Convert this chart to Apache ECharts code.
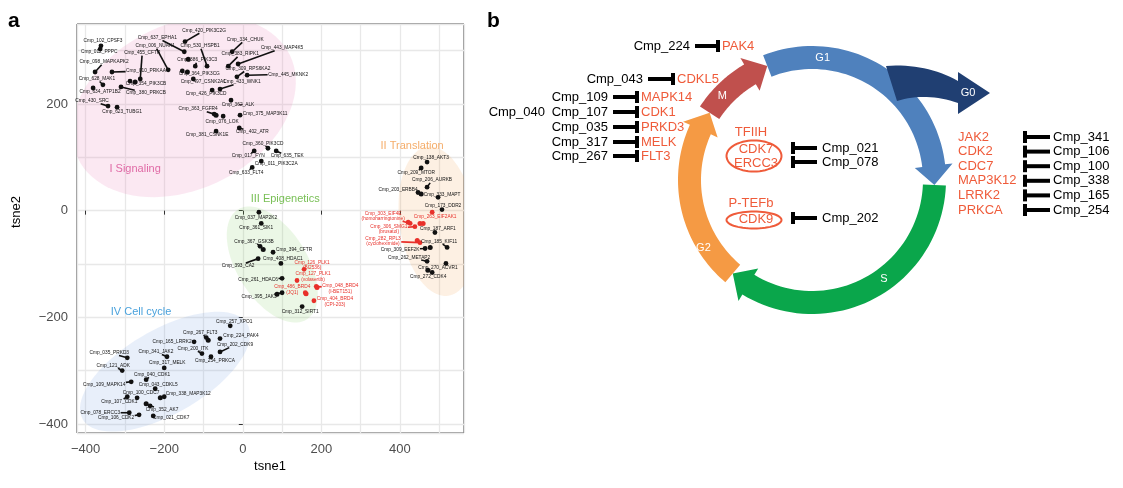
<!DOCTYPE html>
<html><head><meta charset="utf-8">
<script src="https://cdn.jsdelivr.net/npm/echarts@6/dist/echarts.min.js"></script>
<style>html,body{margin:0;padding:0;background:#fff}#c{width:1123px;height:488px}</style>
</head><body><div id="c"></div>
<script>
const FONT = '"Liberation Sans", Arial, Helvetica, sans-serif';

// ---------------- Panel a data ----------------
const cmpLabels = [
 'Cmp_102_CPSF3','Cmp_012_PPPC','Cmp_098_MAPKAPK2','Cmp_628_MAK1','Cmp_634_ATP1B2','Cmp_430_SRC','Cmp_623_TUBG1','Cmp_010_PRKAA',
 'Cmp_637_EPHA1','Cmp_006_NUAK1','Cmp_455_CFTR','Cmp_364_PIK3CG','Cmp_354_PIK3CB','Cmp_380_PRKCB','Cmp_420_PIK3C2G','Cmp_530_HSPB1',
 'Cmp_334_CHUK','Cmp_443_MAP4K5','Cmp_383_RIPK1','Cmp_386_PIK3C3','Cmp_309_RPS6KA2','Cmp_497_CSNK2A1','Cmp_445_MKNK2','Cmp_433_WNK1',
 'Cmp_426_PIK3CD','Cmp_362_ALK','Cmp_363_FGFR4','Cmp_076_LOK','Cmp_375_MAP3K11','Cmp_381_CSNK1E','Cmp_402_ATR','Cmp_360_PIK3CD',
 'Cmp_017_FYN','Cmp_635_TEK','Cmp_011_PIK3C2A','Cmp_633_FLT4',
 'Cmp_138_AKT3','Cmp_209_MTOR','Cmp_206_AURKB','Cmp_203_ERBB4','Cmp_333_MAPT','Cmp_173_DDR2','Cmp_263_EIF2AK1',
 'Cmp_303_EIF4E\n(homoharringtonine)','Cmp_306_SMG1\n(brusatol)','Cmp_187_ARF1','Cmp_282_RPL3\n(cycloheximide)','Cmp_185_KIF11',
 'Cmp_309_EEF2K','Cmp_262_METAP2','Cmp_270_ACVR1','Cmp_272_CDK4',
 'Cmp_037_MAP2K2','Cmp_361_SIK1','Cmp_367_GSK3B','Cmp_394_CFTR','Cmp_408_HDAC1','Cmp_393_CA2','Cmp_261_HDAC6','Cmp_395_JAK3','Cmp_312_SIRT1',
 'Cmp_126_PLK1\n(BI2536)','Cmp_127_PLK1\n(volasertib)','Cmp_048_BRD4\n(I-BET151)','Cmp_486_BRD4\n(JQ1)','Cmp_404_BRD4\n(CPI-203)',
 'Cmp_257_XPO1','Cmp_267_FLT3','Cmp_224_PAK4','Cmp_202_CDK9','Cmp_165_LRRK2','Cmp_200_ITK','Cmp_254_PRKCA','Cmp_035_PRKD3','Cmp_341_JAK2',
 'Cmp_121_ADK','Cmp_317_MELK','Cmp_040_CDK1','Cmp_109_MAPK14','Cmp_043_CDKL5','Cmp_100_CDC7','Cmp_338_MAP3K12','Cmp_107_CDK1','Cmp_352_AK7',
 'Cmp_078_ERCC3','Cmp_106_CDK2','Cmp_021_CDK7'
];
const cmpX = [
 -361,-363,-376,-356,-381,-343,-320,-333,
 -149,-190,-261,-154,-287,-310,-147,-91,
 -27,-12,-37,-121,-15,-126,11,-58,
 -78,-30,-73,-50,-7,-68,-9,64,
 29,85,47,24,
 469,454,469,446,497,507,482,
 426,438,489,451,520,
 464,469,517,482,
 41,47,44,77,97,39,100,100,151,
 156,138,187,159,181,
 -32,-93,-58,-58,-124,-104,-81,-294,-193,
 -307,-200,-246,-284,-223,-269,-200,-294,-236,
 -289,-264,-228
];
const cmpY = [
 309,303,260,236,230,196,194,260,
 298,264,247,262,243,232,317,271,
 298,275,271,271,251,247,254,228,
 226,207,181,177,179,149,155,117,
 112,112,93,81,
 91,80,44,34,25,2,-3,
 -24,-30,-41,-60,-69,
 -71,-95,-99,-116,
 -3,-24,-67,-78,-99,-90,-127,-154,-180,
 -110,-131,-142,-154,-169,
 -216,-238,-240,-265,-246,-268,-274,-276,-274,
 -300,-295,-317,-321,-334,-351,-349,-349,-366,
 -379,-383,-385
];
const cmpHighlighted = cmpLabels.map(l => l.indexOf('\n') >= 0 || l === 'Cmp_263_EIF2AK1' ? 1 : 0);

// unlabeled points
const extraX = [-141,-274,-68,454,451,459,421,444,477,471,52,87,-88,-210,-246,-139,189,161];
const extraY = [260,241,179,31,-24,-24,-22,-56,-69,-112,-73,-157,-243,-351,-362,284,-144,-156];
const extraHighlighted = [0,0,0,0,1,1,1,1,0,0,0,0,0,0,0,0,1,1];

// cluster annotations (data coordinates)
const clusterNames = ['I Signaling','II Translation','III Epigenetics','IV Cell cycle'];
const clusterTextX = [-274, 431, 108, -259];
const clusterTextY = [78, 121, 21, -190];
// cluster ellipses: centre, semi-axes (data units), rotation (deg, screen)
const ellipseCx = [-150, 496, 75, -198];
const ellipseCy = [195, -20, -101, -302];
const ellipseA = [300, 97, 165, 242];
const ellipseB = [155, 141, 66, 79];
const ellipseRot = [-26, -8, 58, -30];

// ---------------- layout / style (not data) ----------------
const labelNudge = [
 [2,-5],[-1,3],[9,-10],[-6,-6],[7,4],[-16,-5],[5,4],[34,-1],
 [-27,-14],[-13,-24],[2,-26],[17,3],[16,3],[25,6],[19,-11],[-7,-20],
 [13,-12],[44,-16],[12,-12],[2,-6],[11,-8],[10,3],[41,-1],[22,-7],
 [-6,4],[7,4],[-16,-5],[-1,5],[25,-2],[-9,3],[13,4],[-5,-5],
 [-6,5],[11,5],[15,3],[-6,5],
 [4,-4],[-5,5],[5,-7],[-20,-3],[4,-3],[1,-4],[3,4],
 [-27,-7.5],[-26,2.5],[3,-4],[-37,-1.5],[-8,-6],
 [-25,1],[-18,-4],[-8,4],[-4,4],
 [-3,5],[-5,4],[-6,-5],[21,-3],[2,-5],[-20,7],[-24,1],[-23,4],[-2,5],
 [8,-4],[16,-4],[24,2.5],[-13,-3],[21,1],
 [4,-4],[-6,-5],[21,-3],[15,-7],[-22,0],[-9,-5],[4,4],[-18,-5],[-11,-5],
 [-9,-5],[3,-5],[6,-5],[-27,3],[3,-4],[4,-5],[24,-3],[-8,5],[12,4],
 [-29,0],[-23,3],[18,2]
];
const RED = '#e8302a';
const clusterTextColors = ['#e06aa6','#f5ad6a','#78bf55','#4aa2dc'];
const ellipseFill = ['rgba(233,120,175,0.17)','rgba(245,160,80,0.16)','rgba(120,200,90,0.15)','rgba(100,150,220,0.15)'];

// ---------------- Panel b data ----------------
const phaseNames = ['G1','S','G2','M'];
const leftCompounds = ['Cmp_224','Cmp_043','Cmp_109','Cmp_107','Cmp_035','Cmp_317','Cmp_267'];
const leftTargets = ['PAK4','CDKL5','MAPK14','CDK1','PRKD3','MELK','FLT3'];
const extraLeftCompound = 'Cmp_040';
const complexNames = ['TFIIH','P-TEFb'];
const complexMembers = [['CDK7','ERCC3'],['CDK9']];
const complexCompounds = [['Cmp_021','Cmp_078'],['Cmp_202']];
const rightTargets = ['JAK2','CDK2','CDC7','MAP3K12','LRRK2','PRKCA'];
const rightCompounds = ['Cmp_341','Cmp_106','Cmp_100','Cmp_338','Cmp_165','Cmp_254'];

// panel b geometry
const ring = {cx: 812, cy: 180, rIn: 111, rOut: 134};
const phaseColors = ['#4f81bd','#0aa64b','#f59a44','#c0504d'];
const phaseFrom = [-21.4, 92.3, 220.3, 303.3];
const phaseTo = [92.3, 220.3, 303.3, 338.6];
const phaseLabelAngle = [5, 144, 238, 313];
const phaseLabelRadius = [122.5, 122.5, 128, 122.5];
const TARGET = '#ef5b3a';

// ---------------- helpers ----------------
const mctx = document.createElement('canvas').getContext('2d');
function textW(t, size){ mctx.font = size + 'px ' + FONT; return mctx.measureText(t).width; }
function txt(s, x, y, o){
  o = o || {};
  const al = o.align || 'left';
  return {type:'text', x:x, y:y, rotation:o.rot||0, z:100,
    style:{text:s, fill:o.fill||'#000', font:(o.weight||'normal')+' '+(o.size||13)+'px '+FONT,
      textAlign:al, align:al, textVerticalAlign:'middle', verticalAlign:'middle'}};
}
function ringPt(r,t){ const a=t*Math.PI/180; return [ring.cx + r*Math.sin(a), ring.cy - r*Math.cos(a)]; }
function arrowArc(t0,t1){
  const rMid=(ring.rIn+ring.rOut)/2, headDeg=9, headHalf=19, tb=t1-headDeg, pts=[];
  for(let k=0;k<=48;k++) pts.push(ringPt(ring.rOut, t0+(tb-t0)*k/48));
  pts.push(ringPt(rMid+headHalf, tb)); pts.push(ringPt(rMid, t1)); pts.push(ringPt(rMid-headHalf, tb));
  for(let k=48;k>=0;k--) pts.push(ringPt(ring.rIn, t0+(tb-t0)*k/48));
  return pts;
}
function quad(p0,p1,p2,n){ const out=[]; for(let k=0;k<=n;k++){const t=k/n,u=1-t; out.push([u*u*p0[0]+2*u*t*p1[0]+t*t*p2[0], u*u*p0[1]+2*u*t*p1[1]+t*t*p2[1]]);} return out; }
function inhibitor(x0, x1, y){
  return [{type:'line', z:90, shape:{x1:x0,y1:y,x2:x1,y2:y}, style:{stroke:'#000', lineWidth:4}},
          {type:'rect', z:90, shape:{x:x1-2, y:y-6, width:4, height:12}, style:{fill:'#000'}}];
}
function ellipsePts(cx,cy,rx,ry,n){ const p=[]; for(let k=0;k<n;k++){const a=2*Math.PI*k/n; p.push([cx+rx*Math.cos(a), cy+ry*Math.sin(a)]);} return p; }

// ---------------- Panel b graphics ----------------
const g = [];
g.push(txt('a', 8, 21, {size:21, weight:'bold'}));
g.push(txt('b', 487, 21, {size:21, weight:'bold'}));
g.push(txt('tsne1', 270, 466, {size:13, align:'center'}));
g.push(txt('tsne2', 16, 212, {size:13, align:'center', rot:Math.PI/2}));

// ring arcs
for (let i=0;i<4;i++){
  g.push({type:'polygon', z:50, shape:{points:arrowArc(phaseFrom[i], phaseTo[i])}, style:{fill:phaseColors[i]}});
}
// G0 exit arrow
const g0 = [].concat(quad([886,66],[926,63],[958,81],16), [[958,72],[990,93],[958,114]], quad([958,103],[926,92],[897,101],16));
g.push({type:'polygon', z:51, shape:{points:g0}, style:{fill:'#203f72'}});
for (let i=0;i<4;i++){
  const p = ringPt(phaseLabelRadius[i], phaseLabelAngle[i]);
  g.push(txt(phaseNames[i], p[0], p[1], {size:11, fill:'#fff', align:'center'}));
}
g.push(txt('G0', 968, 93, {size:11, fill:'#fff', align:'center'}));

// left list
const leftY = [46, 79, 97, 112, 127, 142, 156];
const leftCompRight = [690, 643, 608, 608, 608, 608, 608];
const leftBarX = [718, 673, 637, 637, 637, 637, 637];
leftCompounds.forEach((c,i)=>{
  g.push(txt(c, leftCompRight[i], leftY[i], {align:'right'}));
  inhibitor(leftCompRight[i]+5, leftBarX[i], leftY[i]).forEach(e=>g.push(e));
  g.push(txt(leftTargets[i], leftBarX[i]+4, leftY[i], {fill:TARGET}));
});
g.push(txt(extraLeftCompound, 545, leftY[3], {align:'right'}));

// complexes
const cxY = [132, 203];
complexNames.forEach((n,i)=>{
  g.push(txt(n, 751, cxY[i], {fill:TARGET, align:'center'}));
  const members = complexMembers[i];
  const ecy = i===0 ? 156 : 220, ery = i===0 ? 15.5 : 8.5;
  g.push({type:'polygon', z:60, shape:{points:ellipsePts(754, ecy, 27.5, ery, 60)}, style:{fill:'none', stroke:TARGET, lineWidth:2}});
  members.forEach((m,k)=>{
    const y = members.length===2 ? ecy - 7 + 14*k : ecy - 1;
    g.push(txt(m, 756, y, {fill:TARGET, align:'center'}));
    const cy = members.length===2 ? 148 + 14*k : 218;
    inhibitor(817, 793, cy).forEach(e=>g.push(e));
    g.push(txt(complexCompounds[i][k], 822, cy));
  });
});

// right list
rightTargets.forEach((t,i)=>{
  const y = 137 + i*14.6;
  g.push(txt(t, 958, y, {fill:TARGET}));
  inhibitor(1050, 1025, y).forEach(e=>g.push(e));
  g.push(txt(rightCompounds[i], 1053, y));
});

// ---------------- chart ----------------
const minus = v => String(v).replace('-', '\u2212');
const LBL = 4.8, LH = 5.4;

const option = {
  animation:false,
  graphic: g,
  grid:{left:77, top:24, width:387, height:409, show:true, borderColor:'#333', borderWidth:1, backgroundColor:'#fff'},
  xAxis:[
    {type:'value', min:-422, max:563, splitNumber:5, position:'bottom',
     axisLine:{show:false}, axisTick:{show:true, length:4, lineStyle:{color:'#333', width:1}},
     axisLabel:{showMinLabel:false, showMaxLabel:false, color:'#4d4d4d', fontSize:13, margin:10, fontFamily:FONT, formatter:minus},
     splitLine:{show:false}},
    {type:'value', min:-422, max:563, splitNumber:10, position:'top',
     axisLine:{show:false}, axisTick:{show:false}, axisLabel:{show:false},
     splitLine:{show:true, lineStyle:{color:'#e8e8e8', width:1.3}}}
  ],
  yAxis:[
    {type:'value', min:-417, max:350, splitNumber:4, position:'left',
     axisLine:{show:false}, axisTick:{show:true, length:4, lineStyle:{color:'#333', width:1}},
     axisLabel:{showMinLabel:false, showMaxLabel:false, color:'#4d4d4d', fontSize:13, margin:9, fontFamily:FONT, formatter:minus},
     splitLine:{show:false}},
    {type:'value', min:-417, max:350, splitNumber:8, position:'right',
     axisLine:{show:false}, axisTick:{show:false}, axisLabel:{show:false},
     splitLine:{show:true, lineStyle:{color:'#e8e8e8', width:1.3}}}
  ],
  series:[
    { // cluster ellipses
      type:'custom', xAxisIndex:0, yAxisIndex:0, clip:true, z:1, silent:true,
      data: ellipseCx.map((c,i)=>[c, ellipseCy[i], i]),
      renderItem:(params, api)=>{
        const i = params.dataIndex;
        const c = api.coord([api.value(0), api.value(1)]);
        const rx = api.size([ellipseA[i],0])[0], ry = api.size([0,ellipseB[i]])[1];
        const r = ellipseRot[i]*Math.PI/180, cs=Math.cos(r), sn=Math.sin(r);
        const pts=[];
        for(let k=0;k<90;k++){const a=2*Math.PI*k/90, ex=rx*Math.cos(a), ey=ry*Math.sin(a);
          pts.push([c[0]+ex*cs-ey*sn, c[1]+ex*sn+ey*cs]);}
        return {type:'polygon', shape:{points:pts}, style:{fill:ellipseFill[i]}};
      }
    },
    { // cluster names
      type:'custom', xAxisIndex:0, yAxisIndex:0, clip:true, z:3, silent:true,
      data: clusterTextX.map((x,i)=>[x, clusterTextY[i], i]),
      renderItem:(params, api)=>{
        const i = params.dataIndex;
        const c = api.coord([api.value(0), api.value(1)]);
        return {type:'text', x:c[0], y:c[1], style:{text:clusterNames[i], fill:clusterTextColors[i], font:'11px '+FONT,
          textAlign:'center', align:'center', textVerticalAlign:'middle', verticalAlign:'middle'}};
      }
    },
    { // unlabeled compounds
      type:'scatter', xAxisIndex:0, yAxisIndex:0, symbolSize:5, z:4, silent:true,
      data: extraX.map((x,i)=>[x, extraY[i], i]),
      itemStyle:{color:p=>extraHighlighted[p.dataIndex] ? RED : '#111', opacity:1}
    },
    { // labelled compounds
      type:'custom', xAxisIndex:0, yAxisIndex:0, clip:false, z:5, silent:true,
      data: cmpX.map((x,i)=>[x, cmpY[i], i]),
      renderItem:(params, api)=>{
        const i = params.dataIndex;
        const p = api.coord([api.value(0), api.value(1)]);
        const col = cmpHighlighted[i] ? RED : '#111';
        const lines = cmpLabels[i].split('\n');
        const w = Math.max.apply(null, lines.map(l=>textW(l, LBL)));
        const h = lines.length*LH;
        const lx = p[0]+labelNudge[i][0], ly = p[1]+labelNudge[i][1];
        const children = [];
        const dx = p[0]-lx, dy = p[1]-ly, hw = w/2+0.5, hh = h/2;
        if (!(Math.abs(dx)<=hw && Math.abs(dy)<=hh)){
          const s = Math.min(dx!==0?hw/Math.abs(dx):Infinity, dy!==0?hh/Math.abs(dy):Infinity);
          const ex = lx+dx*s, ey = ly+dy*s;
          if (Math.hypot(p[0]-ex, p[1]-ey) > 3){
            children.push({type:'line', shape:{x1:p[0],y1:p[1],x2:ex,y2:ey}, style:{stroke:col, lineWidth:1.6}});
          }
        }
        children.push({type:'circle', shape:{cx:p[0], cy:p[1], r:2.4}, style:{fill:col}});
        children.push({type:'text', x:lx, y:ly, style:{text:cmpLabels[i], fill:col, font:LBL+'px '+FONT, lineHeight:LH,
          textAlign:'center', align:'center', textVerticalAlign:'middle', verticalAlign:'middle'}});
        return {type:'group', children:children};
      }
    }
  ]
};
const chart = echarts.init(document.getElementById('c'), null, {renderer:'canvas', width:1123, height:488});
chart.setOption(option);
</script>
</body></html>
